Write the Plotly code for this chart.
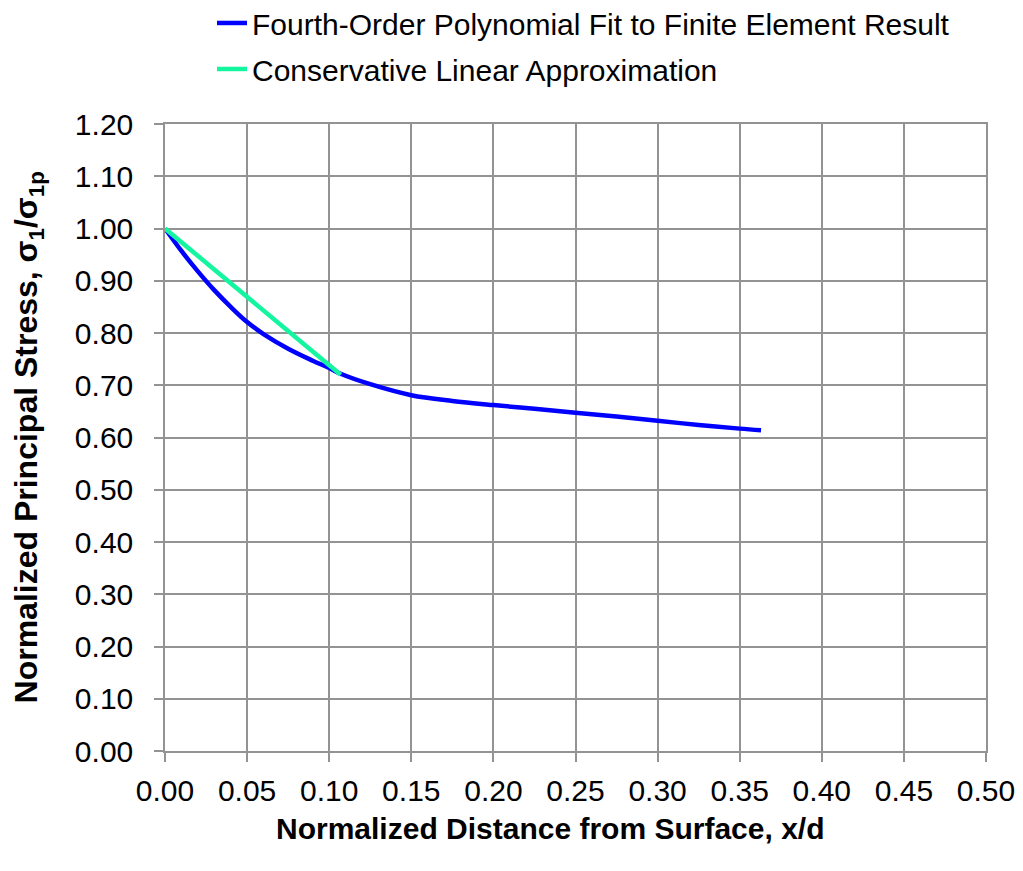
import plotly.graph_objects as go

# Fourth-order polynomial fit
fit_x = [0.000, 0.010, 0.020, 0.030, 0.040, 0.050, 0.060, 0.075, 0.090, 0.100,
         0.107, 0.125, 0.150, 0.175, 0.200, 0.225, 0.250, 0.275, 0.300, 0.325,
         0.350, 0.363]
fit_y = [1.000, 0.957, 0.918, 0.882, 0.850, 0.821, 0.798, 0.770, 0.747, 0.733,
         0.722, 0.702, 0.681, 0.670, 0.662, 0.655, 0.6475, 0.640, 0.632, 0.624,
         0.617, 0.614]

# Conservative linear approximation
lin_x = [0.000, 0.107]
lin_y = [1.000, 0.720]

x_ticks = [0.00, 0.05, 0.10, 0.15, 0.20, 0.25, 0.30, 0.35, 0.40, 0.45, 0.50]
y_ticks = [0.00, 0.10, 0.20, 0.30, 0.40, 0.50, 0.60, 0.70, 0.80, 0.90, 1.00, 1.10, 1.20]

FONT = "Liberation Sans, Arial, sans-serif"
GRID = "#939393"

fig = go.Figure()
fig.add_trace(go.Scatter(
    x=fit_x, y=fit_y, mode="lines", line=dict(color="#0000FF", width=4.5, shape="spline"),
    name="Fourth-Order Polynomial Fit to Finite Element Result", legendgroup="a"))
fig.add_trace(go.Scatter(
    x=lin_x, y=lin_y, mode="lines", line=dict(color="#14F5A0", width=4.5),
    name="Conservative Linear Approximation", legendgroup="b"))

axis_common = dict(
    showgrid=True, gridcolor=GRID, gridwidth=1.5,
    showline=True, linecolor=GRID, linewidth=1.5, mirror=True,
    ticks="outside", ticklen=9, tickcolor=GRID, tickwidth=1.5,
    zeroline=False, tickformat=".2f", automargin=False,
    tickfont=dict(family=FONT, size=30, color="#000000"),
)

fig.update_layout(
    width=1015, height=863,
    margin=dict(l=157, r=37, t=116, b=120, autoexpand=False),
    paper_bgcolor="white", plot_bgcolor="white",
    xaxis=dict(range=[0, 0.5], tickvals=x_ticks, ticklabelstandoff=3, **axis_common),
    yaxis=dict(range=[0, 1.2], tickvals=y_ticks, ticklabelstandoff=15, **axis_common),
    showlegend=True,
    legend=dict(
        xref="container", yref="paper",
        x=0.201, xanchor="left", y=1.2026, yanchor="top",
        font=dict(family=FONT, size=30, color="#000000"),
        bgcolor="rgba(0,0,0,0)", traceorder="grouped", tracegroupgap=4,
    ),
    annotations=[
        dict(text="<b>Normalized Distance from Surface, x/d</b>",
             xref="paper", yref="paper", x=0.469, y=-0.124,
             xanchor="center", yanchor="middle", showarrow=False,
             font=dict(family=FONT, size=30, color="#000000")),
        dict(text="<b>Normalized Principal Stress, σ<sub>1</sub>/σ<sub>1p</sub></b>",
             xref="paper", yref="paper", x=-0.1657, y=0.5, textangle=-90,
             xanchor="center", yanchor="middle", showarrow=False,
             font=dict(family=FONT, size=32, color="#000000")),
    ],
)

fig.write_html("out.html")
